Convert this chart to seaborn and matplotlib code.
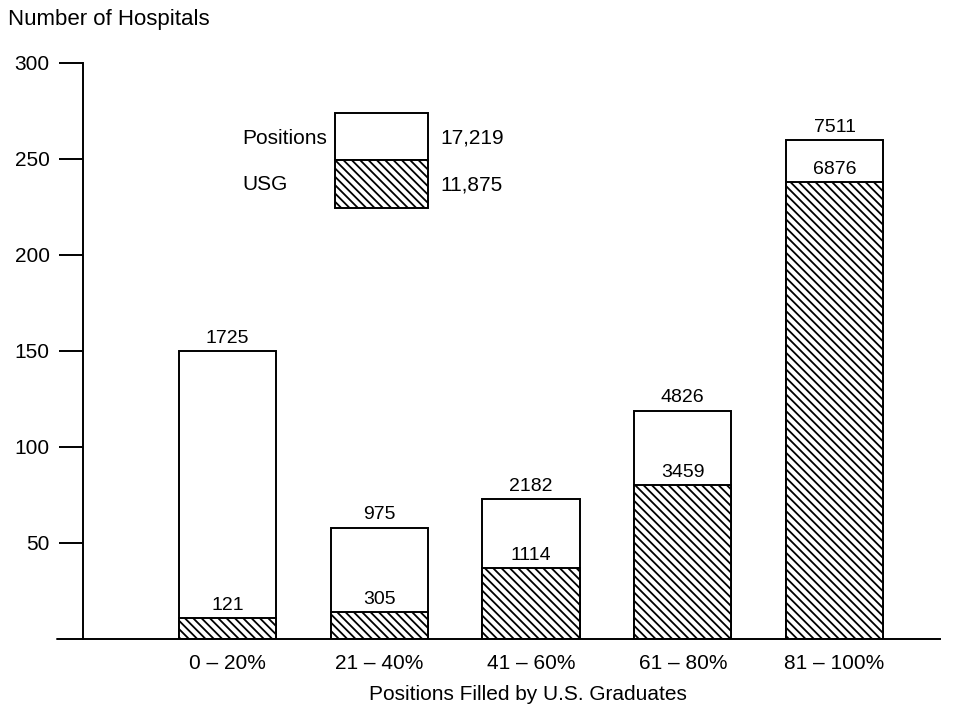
import numpy as np
import pandas as pd
import matplotlib
matplotlib.use("Agg")
import matplotlib.pyplot as plt
import seaborn as sns
from matplotlib.patches import Rectangle

# data
groups = ["0 – 20%", "21 – 40%", "41 – 60%", "61 – 80%", "81 – 100%"]
hospitals = [150, 58, 73, 119, 260]       # all hospitals in the group
hospitals_usg = [11, 14, 37, 80, 238]     # hatched part
positions = [1725, 975, 2182, 4826, 7511]
usg = [121, 305, 1114, 3459, 6876]
total_positions = "17,219"
total_usg = "11,875"

df = pd.DataFrame({"group": groups, "hospitals": hospitals, "usg": hospitals_usg})

sns.set_style("white")
plt.rcParams["font.family"] = ["Liberation Sans", "DejaVu Sans"]
plt.rcParams["text.color"] = "black"
plt.rcParams["xtick.color"] = "black"
plt.rcParams["ytick.color"] = "black"
plt.rcParams["axes.labelcolor"] = "black"
plt.rcParams["hatch.linewidth"] = 1.3
plt.rcParams["hatch.color"] = "black"

HATCH = "\\\\\\\\"

W, H = 967, 708
fig = plt.figure(figsize=(W / 100, H / 100), dpi=100)
ax = fig.add_axes([83 / W, (H - 639) / H, (940 - 83) / W, (639 - 63) / H])

sns.barplot(data=df, x="group", y="hospitals", order=groups, color="white",
            edgecolor="black", linewidth=1.4, width=0.64, ax=ax, saturation=1)
sns.barplot(data=df, x="group", y="usg", order=groups, color="white",
            edgecolor="black", linewidth=1.4, width=0.64, hatch=HATCH, ax=ax,
            saturation=1)

ax.bar_label(ax.containers[0], labels=[str(v) for v in positions], padding=3, fontsize=14)
ax.bar_label(ax.containers[1], labels=[str(v) for v in usg], padding=3, fontsize=14)

ax.set_xlim(-0.952, 4.695)
ax.set_ylim(0, 300)
ax.set_yticks([50, 100, 150, 200, 250, 300])
ax.tick_params(axis="y", length=17, width=1.4, pad=7, labelsize=15, direction="out", left=True)
ax.tick_params(axis="x", length=0, pad=11, labelsize=15)
sns.despine(ax=ax, top=True, right=True)
for s in ["left", "bottom"]:
    ax.spines[s].set_linewidth(1.4)
    ax.spines[s].set_color("black")
ax.axhline(0, xmin=-0.03, xmax=0, color="black", lw=1.4, clip_on=False)

ax.set_ylabel("")
ax.set_xlabel("Positions Filled by U.S. Graduates", fontsize=15)
ax.xaxis.set_label_coords((528 - 83) / (940 - 83), -0.079)

fig.text(8 / W, 1 - 20 / H, "Number of Hospitals", fontsize=16, va="center", ha="left")

# legend box
def fx(px):
    return px / W

def fy(py):
    return 1 - py / H

fig.patches.append(Rectangle((fx(335), fy(160)), fx(428) - fx(335), fy(113) - fy(160),
                             transform=fig.transFigure, facecolor="white",
                             edgecolor="black", lw=1.4))
fig.patches.append(Rectangle((fx(335), fy(208)), fx(428) - fx(335), fy(160) - fy(208),
                             transform=fig.transFigure, facecolor="white",
                             edgecolor="black", lw=1.4, hatch=HATCH))
fig.text(fx(242), fy(138), "Positions", fontsize=15, va="center", ha="left")
fig.text(fx(242), fy(185), "USG", fontsize=15, va="center", ha="left")
fig.text(fx(440), fy(138), total_positions, fontsize=15, va="center", ha="left")
fig.text(fx(440), fy(185), total_usg, fontsize=15, va="center", ha="left")

fig.savefig("out.png", dpi=100)
